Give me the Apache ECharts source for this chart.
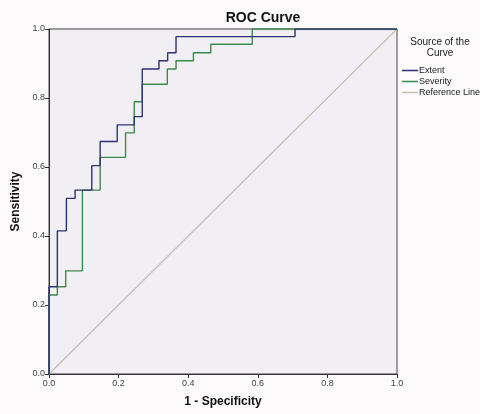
<!DOCTYPE html>
<html>
<head>
<meta charset="utf-8">
<script src="https://cdn.jsdelivr.net/npm/echarts@6/dist/echarts.min.js"></script>
<style>
  html, body { margin: 0; padding: 0; background: #fcfafa; }
  #chart { width: 480px; height: 414px; }
</style>
</head>
<body>
<div id="chart"></div>
<script>
// ROC vertices (1 - specificity, sensitivity)
const extentFpr = [0, 0, 0.024, 0.024, 0.050, 0.050, 0.075, 0.075, 0.123, 0.123, 0.147, 0.147, 0.196, 0.196, 0.245, 0.245, 0.268, 0.268, 0.316, 0.316, 0.341, 0.341, 0.365, 0.365, 0.707, 0.707, 1]
const extentTpr = [0, 0.253, 0.253, 0.415, 0.415, 0.509, 0.509, 0.533, 0.533, 0.604, 0.604, 0.674, 0.674, 0.722, 0.722, 0.746, 0.746, 0.884, 0.884, 0.908, 0.908, 0.931, 0.931, 0.978, 0.978, 1, 1]
const severityFpr = [0, 0, 0.024, 0.024, 0.048, 0.048, 0.096, 0.096, 0.147, 0.147, 0.220, 0.220, 0.245, 0.245, 0.268, 0.268, 0.340, 0.340, 0.365, 0.365, 0.415, 0.415, 0.465, 0.465, 0.584, 0.584, 1]
const severityTpr = [0, 0.229, 0.229, 0.253, 0.253, 0.299, 0.299, 0.533, 0.533, 0.628, 0.628, 0.699, 0.699, 0.789, 0.789, 0.840, 0.840, 0.884, 0.884, 0.908, 0.908, 0.931, 0.931, 0.956, 0.956, 1, 1]
const referenceX = [0, 1]
const referenceY = [0, 1]
const tickLabels = ['0.0', '0.2', '0.4', '0.6', '0.8', '1.0']

const pairs = (xs, ys) => xs.map((x, i) => [x, ys[i]])
const font = 'Liberation Sans, Arial, sans-serif'
const tickFmt = v => tickLabels[Math.round(v * 5)]

const chart = echarts.init(document.getElementById('chart'))

const option = {
  backgroundColor: '#fcfafa',
  animation: false,
  grid: {
    left: 49,
    right: 83,
    top: 29,
    bottom: 40,
    show: true,
    backgroundColor: '#f1eff4',
    borderColor: '#444',
    borderWidth: 1
  },
  graphic: [
    {
      type: 'text',
      x: 263,
      y: 11,
      style: { text: 'ROC Curve', font: 'bold 14px ' + font, fill: '#111', textAlign: 'center' }
    },
    {
      type: 'text',
      x: 440,
      y: 37,
      style: { text: 'Source of the\nCurve', font: '10px ' + font, fill: '#222', textAlign: 'center', lineHeight: 11 }
    }
  ],
  legend: {
    orient: 'vertical',
    left: 397,
    top: 60,
    icon: 'rect',
    itemWidth: 16,
    itemHeight: 1.5,
    itemGap: 0,
    textStyle: { fontFamily: font, fontSize: 9, color: '#222', padding: [0, 0, 0, -4], lineHeight: 11 },
    data: ['Extent', 'Severity', 'Reference Line']
  },
  xAxis: {
    type: 'value',
    min: 0,
    max: 1,
    interval: 0.2,
    name: '1 - Specificity',
    nameLocation: 'middle',
    nameGap: 22,
    nameTextStyle: { fontFamily: font, fontSize: 12, fontWeight: 'bold', color: '#111' },
    axisLine: { lineStyle: { color: '#333' } },
    axisTick: { show: true, length: 4, lineStyle: { color: '#333' } },
    axisLabel: { fontFamily: font, fontSize: 9, color: '#444', margin: 5, formatter: tickFmt },
    splitLine: { show: false }
  },
  yAxis: {
    type: 'value',
    min: 0,
    max: 1,
    interval: 0.2,
    name: 'Sensitivity',
    nameLocation: 'middle',
    nameGap: 25,
    nameTextStyle: { fontFamily: font, fontSize: 12, fontWeight: 'bold', color: '#111' },
    axisLine: { lineStyle: { color: '#333' } },
    axisTick: { show: true, length: 4, lineStyle: { color: '#333' } },
    axisLabel: { fontFamily: font, fontSize: 9, color: '#444', margin: 4, formatter: tickFmt },
    splitLine: { show: false }
  },
  series: [
    {
      name: 'Reference Line',
      type: 'line',
      data: pairs(referenceX, referenceY),
      symbol: 'none',
      itemStyle: { color: '#c7c0b2' },
      lineStyle: { width: 1.3, color: '#c7c0b2' }
    },
    {
      name: 'Severity',
      type: 'line',
      data: pairs(severityFpr, severityTpr),
      symbol: 'none',
      itemStyle: { color: '#3c8a4c' },
      lineStyle: { width: 1.4, color: '#3c8a4c' }
    },
    {
      name: 'Extent',
      type: 'line',
      data: pairs(extentFpr, extentTpr),
      symbol: 'none',
      itemStyle: { color: '#2e3275' },
      lineStyle: { width: 1.4, color: '#2e3275' }
    }
  ]
}

chart.setOption(option)
</script>
</body>
</html>
